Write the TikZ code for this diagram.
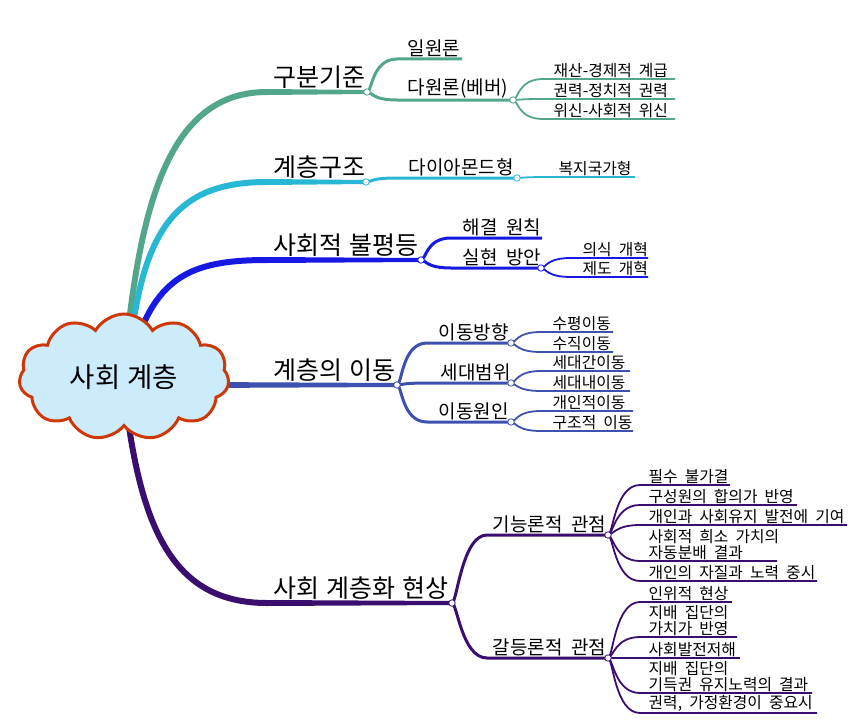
\documentclass[tikz,border=0pt]{standalone}
\usepackage{fontspec}
\setmainfont{Noto Sans CJK KR}[WordSpace=2]
\newfontfamily\lblfont{Noto Sans CJK KR}[WordSpace=1.2]
\usetikzlibrary{shapes.symbols,backgrounds,calc}
\definecolor{colA}{RGB}{82,166,140}
\definecolor{colB}{RGB}{40,184,214}
\definecolor{colC}{RGB}{24,24,228}
\definecolor{colD}{RGB}{62,80,176}
\definecolor{colE}{RGB}{58,14,110}
\definecolor{cloudfill}{RGB}{204,236,252}
\definecolor{cloudline}{RGB}{206,56,8}
\newcommand\mmedge[4]{\draw[#1] (#2) .. controls +(5,0) and +(-25,0) .. (#3) -- (#4);}
\newcommand\mmtaper[3]{\fill[#1] ($(#2)+(0,-3)$) -- ($(#3)+(0,-2)$) -- ($(#3)+(0,2)$) -- ($(#2)+(0,3)$) -- cycle;}
\begin{document}
\begin{tikzpicture}[x=1pt,y=-1pt,
  mainlbl/.style={font=\lblfont\fontsize{25}{28}\selectfont, anchor=south west, inner sep=0.5pt},
  sublbl/.style={font=\fontsize{19}{22}\selectfont, anchor=south west, inner sep=0.5pt},
  leaflbl/.style={font=\fontsize{15.8}{15.5}\selectfont, anchor=south west, inner sep=0.5pt, align=left},
  mainline/.style={line width=6pt, line cap=butt},
  subline/.style={line width=3pt},
  leafline/.style={line width=1.8pt},
  joint/.style={circle, draw, fill=white, line width=0.8pt, inner sep=0pt, minimum size=6.5pt},
  cloudnode/.style={cloud, cloud puffs=11, cloud puff arc=120, aspect=1.7,
    minimum width=210, minimum height=126, draw=cloudline, fill=cloudfill,
    line width=3pt, font=\lblfont\fontsize{27.5}{30}\selectfont, inner sep=0pt}
]
\useasboundingbox (0,0) rectangle (854,725);

% ---------- root ----------
\node[cloudnode] (root) at (124,377) {사회 계층};

% ---------- branch A ----------
\coordinate (A0) at (127,340);
\coordinate (Ah) at (267,92);
\node[joint,draw=colA] (JA) at (367,92) {};
\node[mainlbl] (At) at (273,89) {구분기준};
\coordinate (A1s) at (397,59); \coordinate (A1e) at (462,59);
\node[sublbl] (A1t) at (407,57.5) {일원론};
\coordinate (A2s) at (397,100);
\node[joint,draw=colA] (JA2) at (513,100) {};
\node[sublbl] (A2t) at (407,98.5) {다원론(베버)};
\coordinate (A21s) at (543,79);  \coordinate (A21e) at (675,79);
\coordinate (A22s) at (543,99);  \coordinate (A22e) at (675,99);
\coordinate (A23s) at (543,119); \coordinate (A23e) at (675,119);
\node[leaflbl] (A21t) at (553,78) {재산-경제적 계급};
\node[leaflbl] (A22t) at (553,98) {권력-정치적 권력};
\node[leaflbl] (A23t) at (553,118) {위신-사회적 위신};

% ---------- branch B ----------
\coordinate (B0) at (131,340);
\coordinate (Bh) at (267,182);
\node[joint,draw=colB] (JB) at (366,182) {};
\node[mainlbl] (Bt) at (273,179) {계층구조};
\coordinate (B1s) at (396,178);
\node[joint,draw=colB] (JB1) at (517,178) {};
\node[sublbl] (B1t) at (408,176.5) {다이아몬드형};
\coordinate (B11s) at (547,177); \coordinate (B11e) at (635,177);
\node[leaflbl] (B11t) at (558,176) {복지국가형};

% ---------- branch C ----------
\coordinate (C0) at (137,340);
\coordinate (Ch) at (267,260);
\node[joint,draw=colC] (JC) at (421,260) {};
\node[mainlbl] (Ct) at (273,257) {사회적 불평등};
\coordinate (C1s) at (451,238); \coordinate (C1e) at (542,238);
\node[sublbl] (C1t) at (462,236.5) {해결 원칙};
\coordinate (C2s) at (451,268);
\node[joint,draw=colC] (JC2) at (541,268) {};
\node[sublbl] (C2t) at (462,266.5) {실현 방안};
\coordinate (C21s) at (571,258); \coordinate (C21e) at (648,258);
\coordinate (C22s) at (571,277); \coordinate (C22e) at (648,277);
\node[leaflbl] (C21t) at (582,257) {의식 개혁};
\node[leaflbl] (C22t) at (582,276) {제도 개혁};

% ---------- branch D ----------
\coordinate (D0) at (200,385);
\node[joint,draw=colD] (JD) at (397,385) {};
\node[mainlbl] (Dt) at (273,382) {계층의 이동};
\coordinate (D1s) at (427,343);
\coordinate (D2s) at (427,383);
\coordinate (D3s) at (427,422);
\node[joint,draw=colD] (JD1) at (511,343) {};
\node[joint,draw=colD] (JD2) at (511,383) {};
\node[joint,draw=colD] (JD3) at (511,422) {};
\node[sublbl] (D1t) at (438,341.5) {이동방향};
\node[sublbl] (D2t) at (440,381.5) {세대범위};
\node[sublbl] (D3t) at (438,420.5) {이동원인};
\coordinate (D11s) at (541,332); \coordinate (D11e) at (613,332);
\coordinate (D12s) at (541,352); \coordinate (D12e) at (613,352);
\coordinate (D21s) at (541,371); \coordinate (D21e) at (630,371);
\coordinate (D22s) at (541,391); \coordinate (D22e) at (630,391);
\coordinate (D31s) at (541,411); \coordinate (D31e) at (633,411);
\coordinate (D32s) at (541,431); \coordinate (D32e) at (633,431);
\node[leaflbl] (D11t) at (552,331) {수평이동};
\node[leaflbl] (D12t) at (552,351) {수직이동};
\node[leaflbl] (D21t) at (552,370) {세대간이동};
\node[leaflbl] (D22t) at (552,390) {세대내이동};
\node[leaflbl] (D31t) at (552,410) {개인적이동};
\node[leaflbl] (D32t) at (552,430) {구조적 이동};

% ---------- branch E ----------
\coordinate (E0) at (128,420);
\coordinate (Eh) at (267,603);
\node[joint,draw=colE] (JE) at (452,603) {};
\node[mainlbl] (Et) at (273,600) {사회 계층화 현상};
\coordinate (E1s) at (487,535);
\coordinate (E2s) at (487,658);
\node[joint,draw=colE] (JE1) at (608,535) {};
\node[joint,draw=colE] (JE2) at (608,658) {};
\node[sublbl] (E1t) at (492,533.5) {기능론적 관점};
\node[sublbl] (E2t) at (492,656.5) {갈등론적 관점};
\coordinate (E11s) at (640,485); \coordinate (E11e) at (730,485);
\coordinate (E12s) at (640,505); \coordinate (E12e) at (797,505);
\coordinate (E13s) at (640,525); \coordinate (E13e) at (847,525);
\coordinate (E14s) at (640,561); \coordinate (E14e) at (777,561);
\coordinate (E15s) at (640,581); \coordinate (E15e) at (817,581);
\node[leaflbl] (E11t) at (648,484) {필수 불가결};
\node[leaflbl] (E12t) at (648,504) {구성원의 합의가 반영};
\node[leaflbl] (E13t) at (648,524) {개인과 사회유지 발전에 기여};
\node[leaflbl] (E14t) at (648,560) {사회적 희소 가치의\\자동분배 결과};
\node[leaflbl] (E15t) at (648,580) {개인의 자질과 노력 중시};
\coordinate (E21s) at (640,602); \coordinate (E21e) at (732,602);
\coordinate (E22s) at (640,637); \coordinate (E22e) at (737,637);
\coordinate (E23s) at (640,658); \coordinate (E23e) at (740,658);
\coordinate (E24s) at (640,693); \coordinate (E24e) at (812,693);
\coordinate (E25s) at (640,713); \coordinate (E25e) at (817,713);
\node[leaflbl] (E21t) at (648,601) {인위적 현상};
\node[leaflbl] (E22t) at (648,636) {지배 집단의\\가치가 반영};
\node[leaflbl] (E23t) at (648,657) {사회발전저해};
\node[leaflbl] (E24t) at (648,692) {지배 집단의\\기득권 유지노력의 결과};
\node[leaflbl] (E25t) at (648,712) {권력, 가정환경이 중요시};

% ---------- connectors ----------
\begin{scope}[on background layer]
\draw[mainline,colA] (A0) .. controls (143,190) and (175,92) .. (Ah);
\mmtaper{colA}{Ah}{JA.center}
\mmedge{subline,colA}{JA.center}{A1s}{A1e}
\mmedge{subline,colA}{JA.center}{A2s}{JA2.center}
\mmedge{leafline,colA}{JA2.center}{A21s}{A21e}
\mmedge{leafline,colA}{JA2.center}{A22s}{A22e}
\mmedge{leafline,colA}{JA2.center}{A23s}{A23e}

\draw[mainline,colB] (B0) .. controls (145,225) and (180,182) .. (Bh);
\mmtaper{colB}{Bh}{JB.center}
\mmedge{subline,colB}{JB.center}{B1s}{JB1.center}
\mmedge{leafline,colB}{JB1.center}{B11s}{B11e}

\draw[mainline,colC] (C0) .. controls (160,275) and (195,260) .. (Ch);
\mmtaper{colC}{Ch}{JC.center}
\mmedge{subline,colC}{JC.center}{C1s}{C1e}
\mmedge{subline,colC}{JC.center}{C2s}{JC2.center}
\mmedge{leafline,colC}{JC2.center}{C21s}{C21e}
\mmedge{leafline,colC}{JC2.center}{C22s}{C22e}

\mmtaper{colD}{D0}{JD.center}
\mmedge{subline,colD}{JD.center}{D1s}{JD1.center}
\mmedge{subline,colD}{JD.center}{D2s}{JD2.center}
\mmedge{subline,colD}{JD.center}{D3s}{JD3.center}
\mmedge{leafline,colD}{JD1.center}{D11s}{D11e}
\mmedge{leafline,colD}{JD1.center}{D12s}{D12e}
\mmedge{leafline,colD}{JD2.center}{D21s}{D21e}
\mmedge{leafline,colD}{JD2.center}{D22s}{D22e}
\mmedge{leafline,colD}{JD3.center}{D31s}{D31e}
\mmedge{leafline,colD}{JD3.center}{D32s}{D32e}

\draw[mainline,colE] (E0) .. controls (145,540) and (180,603) .. (Eh);
\mmtaper{colE}{Eh}{JE.center}
\mmedge{subline,colE}{JE.center}{E1s}{JE1.center}
\mmedge{subline,colE}{JE.center}{E2s}{JE2.center}
\mmedge{leafline,colE}{JE1.center}{E11s}{E11e}
\mmedge{leafline,colE}{JE1.center}{E12s}{E12e}
\mmedge{leafline,colE}{JE1.center}{E13s}{E13e}
\mmedge{leafline,colE}{JE1.center}{E14s}{E14e}
\mmedge{leafline,colE}{JE1.center}{E15s}{E15e}
\mmedge{leafline,colE}{JE2.center}{E21s}{E21e}
\mmedge{leafline,colE}{JE2.center}{E22s}{E22e}
\mmedge{leafline,colE}{JE2.center}{E23s}{E23e}
\mmedge{leafline,colE}{JE2.center}{E24s}{E24e}
\mmedge{leafline,colE}{JE2.center}{E25s}{E25e}
\end{scope}
\end{tikzpicture}
\end{document}
